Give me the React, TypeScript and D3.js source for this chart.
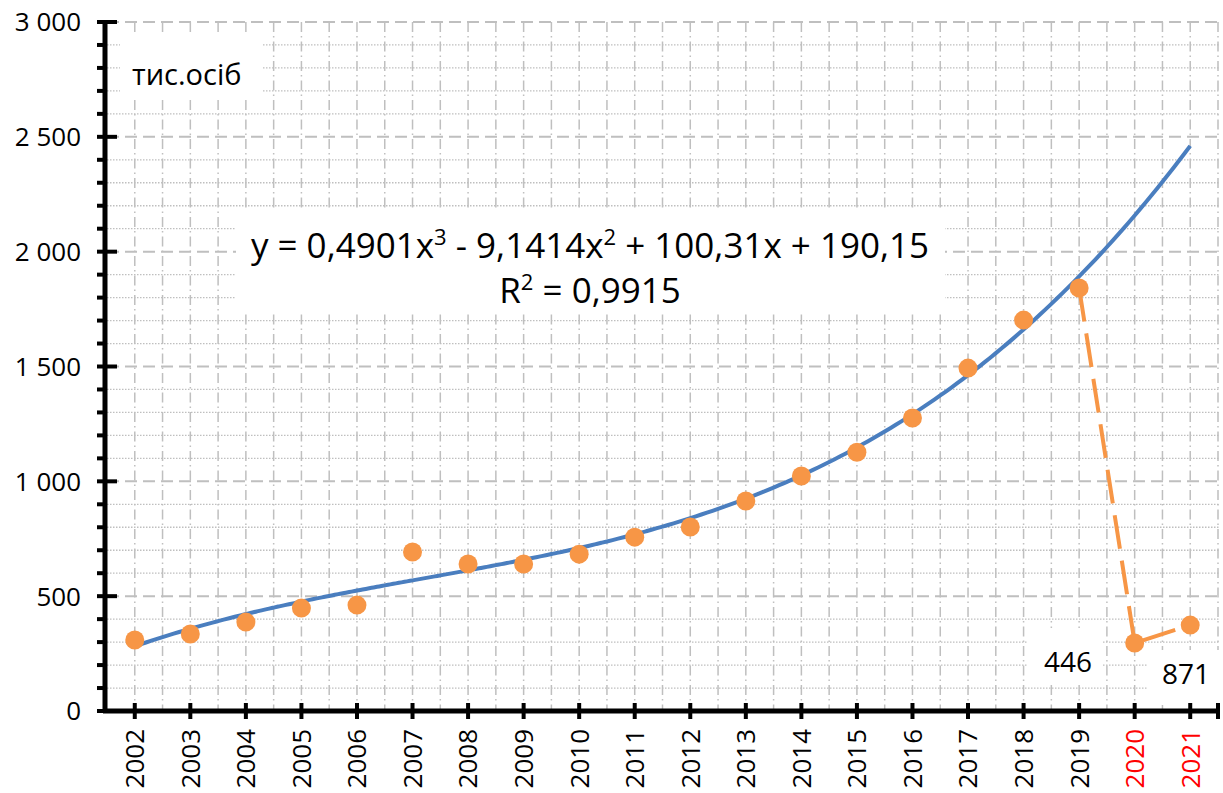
import * as React from "react";
import * as d3 from "d3";

const years = ["2002", "2003", "2004", "2005", "2006", "2007", "2008", "2009", "2010", "2011",
  "2012", "2013", "2014", "2015", "2016", "2017", "2018", "2019", "2020", "2021"];
const values = [309, 335, 387, 448, 461, 692, 640, 640, 683, 757,
  801, 914, 1023, 1127, 1276, 1493, 1702, 1842, 296, 374];
const redYears = ["2020", "2021"];
// trend: y = a*x^3 + b*x^2 + c*x + d, x = 1..20
const trendCoef = [0.4901, -9.1414, 100.31, 190.15];
const yTicks = [0, 500, 1000, 1500, 2000, 2500, 3000];
const tickLabels = ["0", "500", "1 000", "1 500", "2 000", "2 500", "3 000"];
const pointLabels = ["446", "871"];

const W = 1223, H = 793;
const FONT = "'Open Sans', 'Noto Sans', sans-serif";
const ORANGE = "#F79646";
const BLUE = "#4A7EBF";
const GRID = "#BFBFBF";

export default function App() {
  const x = d3.scaleBand().domain(years).range([107, 1218]);
  const y = d3.scaleLinear().domain([0, 3000]).range([711, 22]);
  const cx = (yr) => x(yr) + x.bandwidth() / 2;
  const step = x.step();

  const minor = d3.range(0, 3001, 100).filter(v => v % 500 !== 0);
  const vlines = d3.range(0, 40).map(i => x.range()[0] + step / 2 + i * step / 2).filter(v => v <= 1219);

  const trend = d3.range(1, 20.001, 0.1).map(t => [t, trendCoef[0] * t ** 3 + trendCoef[1] * t ** 2 + trendCoef[2] * t + trendCoef[3]]);
  const tx = (t) => cx(years[0]) + (t - 1) * step;
  const trendPath = d3.line().x(d => tx(d[0])).y(d => y(d[1])).curve(d3.curveMonotoneX)(trend);

  const pts = years.map((yr, i) => ({ yr, v: values[i] }));
  const tail = pts.slice(17);
  const tailPath = d3.line().x((d: any) => cx(d.yr)).y((d: any) => y(d.v))(tail as any);

  return (
    <svg width={W} height={H} style={{ position: "absolute", left: 0, top: 0, background: "#fff" }}>
      {/* grid */}
      <g>
        {minor.map(v => (
          <line key={"mi" + v} x1={107} x2={1219} y1={y(v)} y2={y(v)} stroke={GRID} strokeWidth={1.3} strokeDasharray="1.5,1.5" />
        ))}
        {vlines.map((vx, i) => (
          <line key={"v" + i} x1={vx} x2={vx} y1={22} y2={711} stroke={GRID} strokeWidth={1.5} strokeDasharray="10,4,1.5,4" />
        ))}
        {yTicks.filter(v => v > 0).map(v => (
          <line key={"ma" + v} x1={107} x2={1219} y1={y(v)} y2={y(v)} stroke={GRID} strokeWidth={2} strokeDasharray="12,6" />
        ))}
      </g>

      {/* label boxes hiding the grid */}
      <rect x={120} y={35} width={143} height={65} fill="#fff" />
      <rect x={236} y={211} width={709} height={101} fill="#fff" />
      <rect x={1028} y={628} width={75} height={57} fill="#fff" />
      <rect x={1148} y={650} width={72} height={55} fill="#fff" />

      {/* trend line */}
      <path d={trendPath} fill="none" stroke={BLUE} strokeWidth={4} />

      {/* 2019-2021 dashed connection */}
      <path d={tailPath} fill="none" stroke={ORANGE} strokeWidth={4} strokeDasharray="34,12" />

      {/* points */}
      {pts.map(p => (
        <circle key={p.yr} cx={cx(p.yr)} cy={y(p.v)} r={9.5} fill={ORANGE} />
      ))}

      {/* axes */}
      <line x1={105} x2={105} y1={20} y2={713} stroke="#000" strokeWidth={5} />
      <line x1={103} x2={1220} y1={711} y2={711} stroke="#000" strokeWidth={5} />
      {minor.map(v => (
        <line key={"mt" + v} x1={97} x2={105} y1={y(v)} y2={y(v)} stroke="#000" strokeWidth={4} />
      ))}
      {yTicks.map(v => (
        <line key={"Mt" + v} x1={97} x2={117} y1={y(v)} y2={y(v)} stroke="#000" strokeWidth={4} />
      ))}
      {years.map(yr => (
        <line key={"xt" + yr} x1={cx(yr)} x2={cx(yr)} y1={703} y2={719} stroke="#000" strokeWidth={4} />
      ))}
      <line x1={1218} x2={1218} y1={703} y2={719} stroke="#000" strokeWidth={4} />

      {/* y tick labels */}
      {yTicks.map((v, i) => (
        <text key={"yl" + v} x={81} y={y(v)} dy="0.36em" textAnchor="end" fontFamily={FONT} fontSize={26} fill="#000">
          {tickLabels[i]}
        </text>
      ))}

      {/* x tick labels */}
      {years.map(yr => (
        <text key={"xl" + yr} transform={`translate(${cx(yr)},729) rotate(-90)`} dy="0.36em" textAnchor="end"
          fontFamily={FONT} fontSize={26} fill={redYears.includes(yr) ? "#FF0000" : "#000"}>
          {yr}
        </text>
      ))}

      {/* annotations */}
      <text x={132} y={85} fontFamily={FONT} fontSize={29} fill="#000">тис.осіб</text>
      <text x={590} y={258} textAnchor="middle" fontFamily={FONT} fontSize={35} fill="#000">
        y = 0,4901x<tspan dy={-13} fontSize={22}>3</tspan><tspan dy={13}> - 9,1414x</tspan><tspan dy={-13} fontSize={22}>2</tspan><tspan dy={13}> + 100,31x + 190,15</tspan>
      </text>
      <text x={590} y={303} textAnchor="middle" fontFamily={FONT} fontSize={35} fill="#000">
        R<tspan dy={-13} fontSize={22}>2</tspan><tspan dy={13}> = 0,9915</tspan>
      </text>
      <text x={1068} y={672} textAnchor="middle" fontFamily={FONT} fontSize={28} fill="#000">{pointLabels[0]}</text>
      <text x={1186} y={684} textAnchor="middle" fontFamily={FONT} fontSize={28} fill="#000">{pointLabels[1]}</text>
    </svg>
  );
}
